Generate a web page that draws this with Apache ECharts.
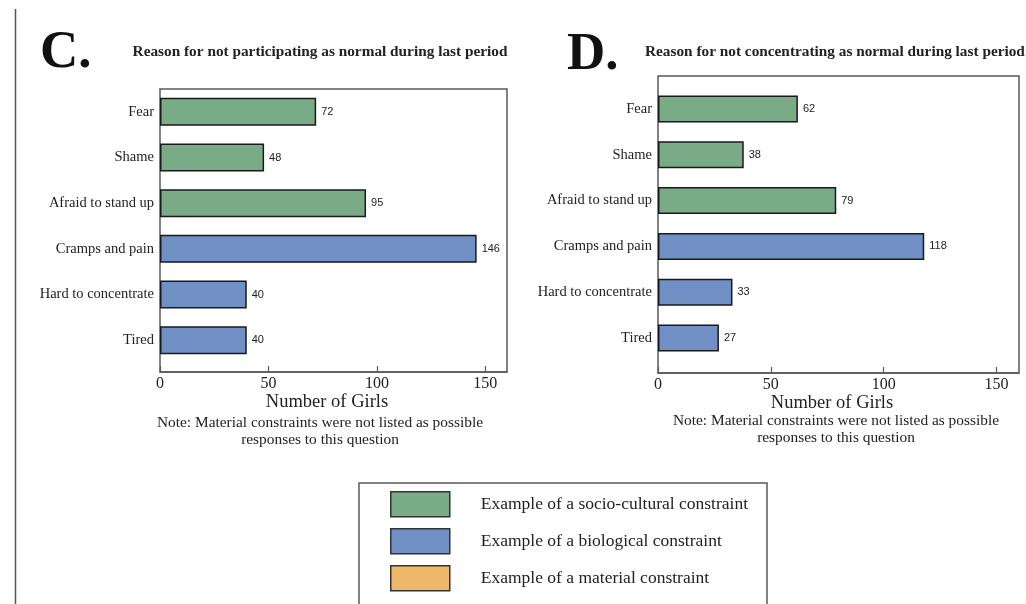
<!DOCTYPE html>
<html>
<head>
<meta charset="utf-8">
<script src="https://cdn.jsdelivr.net/npm/echarts@6/dist/echarts.min.js"></script>
<style>html,body{margin:0;padding:0;background:#fff}#c{width:1026px;height:604px}</style>
</head>
<body>
<div id="c"></div>
<script>
// ---- data ----
const categories = ['Fear', 'Shame', 'Afraid to stand up', 'Cramps and pain', 'Hard to concentrate', 'Tired'];
const groups = ['socio', 'socio', 'socio', 'bio', 'bio', 'bio'];
const valuesC = [72, 48, 95, 146, 40, 40];
const valuesD = [62, 38, 79, 118, 33, 27];
const xTicks = [0, 50, 100, 150];
const titleC = 'Reason for not participating as normal during last period';
const titleD = 'Reason for not concentrating as normal during last period';
const noteLines = ['Note: Material constraints were not listed as possible', 'responses to this question'];
const legendNames = {
  socio: 'Example of a socio-cultural constraint',
  bio: 'Example of a biological constraint',
  material: 'Example of a material constraint'
};
const xName = 'Number of Girls';

// ---- styles ----
const colors = { socio: '#79ab86', bio: '#7190c6', material: '#f0b86a' };
const SERIF = '"Liberation Serif", "DejaVu Serif", serif';
const SANS = '"Liberation Sans", Arial, sans-serif';
const frameColor = '#5a5a5a';

function pick(vals, g) { return vals.map((v, i) => groups[i] === g ? v : '-'); }

const chart = echarts.init(document.getElementById('c'));

function frameX(gi) {
  return {
    gridIndex: gi, type: 'value', min: 0, max: 160,
    name: xName, nameLocation: 'middle', nameGap: 21,
    nameTextStyle: { fontFamily: SERIF, fontSize: 18.5, color: '#222', padding: [0, 13, 0, 0] },
    axisLine: { show: true, lineStyle: { color: frameColor, width: 1.5 } },
    axisTick: { show: true, inside: true, length: 6, customValues: xTicks, lineStyle: { color: frameColor, width: 1.2 } },
    axisLabel: { customValues: xTicks, fontFamily: SERIF, fontSize: 16, color: '#222', margin: 4 },
    splitLine: { show: false }
  };
}
function hiddenX(gi) { return { gridIndex: gi, type: 'value', min: 0, max: 160, show: false, splitLine: { show: false } }; }
function frameY(gi) { return { gridIndex: gi, type: 'value', show: false, splitLine: { show: false } }; }
function catY(gi) {
  return {
    gridIndex: gi, type: 'category', data: categories, inverse: true,
    axisLine: { show: false }, axisTick: { show: false },
    axisLabel: { fontFamily: SERIF, fontSize: 14.5, color: '#222', margin: 6 }
  };
}
function barSeries(g, vals, xi, yi, stack, bw) {
  return {
    name: legendNames[g], type: 'bar', xAxisIndex: xi, yAxisIndex: yi, stack: stack,
    barWidth: bw, data: pick(vals, g),
    itemStyle: { color: colors[g], borderColor: '#1a1a1a', borderWidth: 1.5 },
    label: { show: true, position: 'right', distance: 5, fontFamily: SANS, fontSize: 11, color: '#222' },
    emphasis: { disabled: true }, animation: false
  };
}

const option = {
  animation: false,
  grid: [
    { left: 160, right: 519, top: 89, bottom: 232, show: true, borderColor: frameColor, borderWidth: 1.5, containLabel: false },
    { left: 160, right: 519, top: 89, bottom: 241, containLabel: false },
    { left: 658, right: 7, top: 76, bottom: 231, show: true, borderColor: frameColor, borderWidth: 1.5, containLabel: false },
    { left: 658, right: 7, top: 86, bottom: 243, containLabel: false }
  ],
  xAxis: [frameX(0), hiddenX(1), frameX(2), hiddenX(3)],
  yAxis: [frameY(0), catY(1), frameY(2), catY(3)],
  legend: {
    orient: 'vertical', left: 359, top: 483, height: 110,
    data: [legendNames.socio, legendNames.bio, legendNames.material],
    icon: 'rect', itemWidth: 59, itemHeight: 25, itemGap: 10.5,
    padding: [8, 19, 30, 31],
    borderColor: frameColor, borderWidth: 1.5,
    itemStyle: { borderColor: '#333', borderWidth: 1.5 },
    textStyle: { fontFamily: SERIF, fontSize: 17.5, color: '#222', padding: [0, 0, 0, 26] },
    selectedMode: false
  },
  series: [
    barSeries('socio', valuesC, 1, 1, 'c', 28),
    barSeries('bio', valuesC, 1, 1, 'c', 28),
    { name: legendNames.material, type: 'bar', xAxisIndex: 1, yAxisIndex: 1, stack: 'c', data: categories.map(() => '-'),
      itemStyle: { color: colors.material, borderColor: '#333', borderWidth: 1.5 } },
    barSeries('socio', valuesD, 3, 3, 'd', 27),
    barSeries('bio', valuesD, 3, 3, 'd', 27)
  ],
  graphic: [
    { type: 'line', shape: { x1: 15.5, y1: 9, x2: 15.5, y2: 604 }, style: { stroke: '#555', lineWidth: 1.5 } },
    { type: 'text', x: 40, y: 53, style: { text: 'C.', font: 'bold 53px ' + SERIF, fill: '#111', textAlign: 'left', textVerticalAlign: 'middle' } },
    { type: 'text', x: 320, y: 52, style: { text: titleC, font: 'bold 15.3px ' + SERIF, fill: '#222', textAlign: 'center', textVerticalAlign: 'middle' } },
    { type: 'text', x: 567, y: 55, style: { text: 'D.', font: 'bold 53px ' + SERIF, fill: '#111', textAlign: 'left', textVerticalAlign: 'middle' } },
    { type: 'text', x: 645, y: 52, style: { text: titleD, font: 'bold 15.3px ' + SERIF, fill: '#222', textAlign: 'left', textVerticalAlign: 'middle' } },
    { type: 'text', x: 320, y: 423, style: { text: noteLines[0], font: '15.4px ' + SERIF, fill: '#222', textAlign: 'center', textVerticalAlign: 'middle' } },
    { type: 'text', x: 320, y: 440, style: { text: noteLines[1], font: '15.4px ' + SERIF, fill: '#222', textAlign: 'center', textVerticalAlign: 'middle' } },
    { type: 'text', x: 836, y: 421, style: { text: noteLines[0], font: '15.4px ' + SERIF, fill: '#222', textAlign: 'center', textVerticalAlign: 'middle' } },
    { type: 'text', x: 836, y: 438, style: { text: noteLines[1], font: '15.4px ' + SERIF, fill: '#222', textAlign: 'center', textVerticalAlign: 'middle' } }
  ]
};
chart.setOption(option);
</script>
</body>
</html>
